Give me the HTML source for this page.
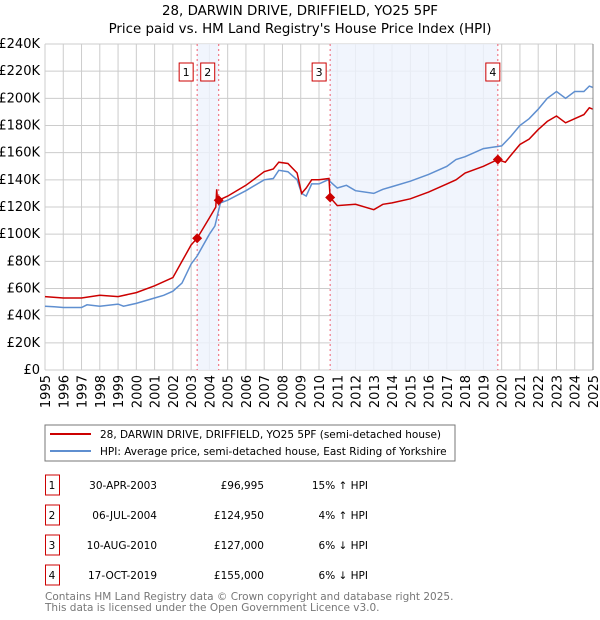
<!DOCTYPE html>
<html><head><meta charset="utf-8"><style>
body{margin:0;background:#fff;font-family:"DejaVu Sans","Liberation Sans",sans-serif;}
#wrap{position:relative;width:600px;height:620px;overflow:hidden;}
svg text{font-family:"DejaVu Sans","Liberation Sans",sans-serif;}
</style></head><body>
<div id="wrap">
<svg id="chart" width="600" height="620">
<text x="300" y="15" text-anchor="middle" font-size="13.4">28, DARWIN DRIVE, DRIFFIELD, YO25 5PF</text>
<text x="300" y="33" text-anchor="middle" font-size="13.4">Price paid vs. HM Land Registry's House Price Index (HPI)</text>
<g id="grid"></g><g id="shade"></g><g id="series"></g><g id="marks"></g><g id="axes"></g>
<rect x="45" y="425" width="410" height="36" fill="#fff" stroke="#777"/>
<line x1="50" y1="434" x2="91" y2="434" stroke="#cc0000" stroke-width="2"/>
<text x="100" y="438" font-size="10.5">28, DARWIN DRIVE, DRIFFIELD, YO25 5PF (semi-detached house)</text>
<line x1="50" y1="451" x2="91" y2="451" stroke="#5f8fd0" stroke-width="2"/>
<text x="100" y="455" font-size="10.5">HPI: Average price, semi-detached house, East Riding of Yorkshire</text>
<g id="table"></g>
<text x="45" y="600" font-size="10.5" fill="#777">Contains HM Land Registry data © Crown copyright and database right 2025.</text>
<text x="45" y="611" font-size="10.5" fill="#777">This data is licensed under the Open Government Licence v3.0.</text>
</svg>
</div>
<script>
const hpiYears=[1995,1995.5,1996,1997,1997.3,1998,1999,1999.3,2000,2001,2001.5,2002,2002.5,2003,2003.33,2004,2004.3,2004.6,2005,2006,2007,2007.5,2007.8,2008.3,2008.8,2009.05,2009.3,2009.6,2010,2010.5,2011,2011.5,2012,2013,2013.5,2014,2015,2016,2017,2017.5,2018,2019,2019.5,2020,2020.5,2021,2021.5,2022,2022.5,2023,2023.5,2024,2024.5,2024.8,2025];
const hpiValues=[47,46.5,46,46,48,47,48.5,47,49,53,55,58,64,78,84,100,106,123,125,132,140,141,147,146,140,130,128,137,137,140,134,136,132,130,133,135,139,144,150,155,157,163,164,165,172,180,185,192,200,205,200,205,205,209,208];
const propYears=[1995,1996,1997,1998,1999,2000,2001,2002,2002.5,2003,2003.33,2004,2004.35,2004.4,2004.45,2004.51,2005,2006,2007,2007.5,2007.8,2008.3,2008.8,2009.05,2009.3,2009.6,2010,2010.55,2010.61,2011,2012,2013,2013.5,2014,2015,2016,2017,2017.5,2018,2019,2019.79,2020.2,2020.5,2021,2021.5,2022,2022.5,2023,2023.5,2024,2024.5,2024.8,2025];
const propValues=[54,53,53,55,54,57,62,68,80,92,97,112,120,133,124,125,128,136,146,148,153,152,145,130,134,140,140,141,127,121,122,118,122,123,126,131,137,140,145,150,155,153,158,166,170,177,183,187,182,185,188,193,192];
const saleNums=["1","2","3","4"];
const saleYears=[2003.33,2004.51,2010.61,2019.79];
const saleValues=[96.995,124.95,127,155];
const saleDates=["30-APR-2003","06-JUL-2004","10-AUG-2010","17-OCT-2019"];
const salePrices=["£96,995","£124,950","£127,000","£155,000"];
const saleDiffs=["15% ↑ HPI","4% ↑ HPI","6% ↓ HPI","6% ↓ HPI"];
const yTicks=[0,20,40,60,80,100,120,140,160,180,200,220,240];
const yTickLabels=["£0","£20K","£40K","£60K","£80K","£100K","£120K","£140K","£160K","£180K","£200K","£220K","£240K"];
const xTicks=[1995,1996,1997,1998,1999,2000,2001,2002,2003,2004,2005,2006,2007,2008,2009,2010,2011,2012,2013,2014,2015,2016,2017,2018,2019,2020,2021,2022,2023,2024,2025];

const X0=45,X1=593,Y0=370,Y1=44;
const xs=t=>X0+(t-1995)*(X1-X0)/30;
const ys=v=>Y0-v*(Y0-Y1)/240;
const NS="http://www.w3.org/2000/svg";
function mk(parent,tag,attrs){const e=document.createElementNS(NS,tag);for(const k in attrs)e.setAttribute(k,attrs[k]);document.getElementById(parent).appendChild(e);return e;}

[[0,1],[2,3]].forEach(p=>{
 const r=mk('shade','rect',{x:xs(saleYears[p[0]]),y:Y1,width:xs(saleYears[p[1]])-xs(saleYears[p[0]]),height:Y0-Y1,fill:'#eef3fc',opacity:0.8});
 
 
});
yTicks.forEach((v,i)=>{
 const l=mk('grid','line',{x1:X0,x2:X1,y1:ys(v),y2:ys(v),stroke:'#ccc'});
 
 
 const t=mk('axes','text',{x:40,y:ys(v)+4,'text-anchor':'end','font-size':13});
 t.textContent=yTickLabels[i];
 
 
});
xTicks.forEach(v=>{
 const l=mk('grid','line',{x1:xs(v),x2:xs(v),y1:Y1,y2:Y0,stroke:'#ccc'});
 
 
 const t=mk('axes','text',{x:0,y:0,'text-anchor':'end','font-size':13,transform:`translate(${xs(v)+5},375) rotate(-90)`});
 t.textContent=v;
 
 
});
saleYears.forEach(y=>{
 const l=mk('shade','line',{x1:xs(y),x2:xs(y),y1:Y1,y2:Y0,stroke:'#f06070','stroke-dasharray':'2,3'});
 
 
});
function path(xa,va){return xa.map((t,i)=>(i?'L':'M')+xs(t).toFixed(1)+','+ys(va[i]).toFixed(1)).join('');}
const hp=mk('series','path',{d:path(hpiYears,hpiValues),fill:'none',stroke:'#5f8fd0','stroke-width':1.5});


const pp=mk('series','path',{d:path(propYears,propValues),fill:'none',stroke:'#cc0000','stroke-width':1.5});


saleYears.forEach((y,i)=>{
 const cx=xs(y),cy=ys(saleValues[i]);
 const d=mk('marks','path',{d:`M${cx},${cy-5}L${cx+5},${cy}L${cx},${cy+5}L${cx-5},${cy}Z`,fill:'#cc0000'});
 
 
 const bx=cx-(i===3?5:11);
 const r=mk('marks','rect',{x:bx-7,y:63,width:14,height:18,fill:'#fff',stroke:'#cc0000'});
 
 
 const t=mk('marks','text',{x:bx,y:76,'text-anchor':'middle','font-size':11});
 t.textContent=saleNums[i];
 
 
});
const ax=mk('axes','line',{x1:X1,x2:X1,y1:Y1,y2:Y0,stroke:'#888'});


saleNums.forEach((n,i)=>{
 const cy=484+i*30;
 const r=mk('table','rect',{x:45.5,y:cy-9,width:14,height:20,fill:'#fff',stroke:'#cc0000'});
 
 
 const a=mk('table','text',{x:52,y:cy+5,'text-anchor':'middle','font-size':10.5});a.textContent=n;
 
 
 const b=mk('table','text',{x:157,y:cy+5,'text-anchor':'end','font-size':10.5});b.textContent=saleDates[i];
 
 
 const c=mk('table','text',{x:264,y:cy+5,'text-anchor':'end','font-size':10.5});c.textContent=salePrices[i];
 
 
 const d=mk('table','text',{x:368,y:cy+5,'text-anchor':'end','font-size':10.5});d.textContent=saleDiffs[i];
 
 
});
</script>
</body></html>
